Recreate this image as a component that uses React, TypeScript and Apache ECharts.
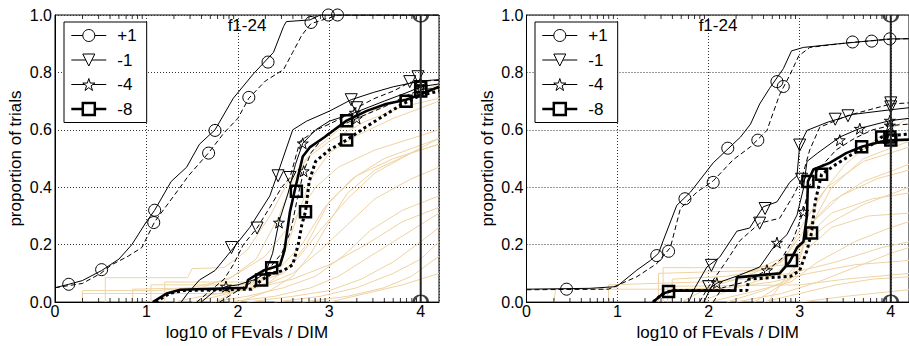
import React, { useEffect, useRef } from "react";
import * as echarts from "echarts";

const FONT = "'Liberation Sans', Arial, Helvetica, sans-serif";
const X_NAME = "log10 of FEvals / DIM";
const Y_NAME = "proportion of trials";
const PANEL_TITLE = "f1-24";
const TARGETS = ["+1", "-1", "-4", "-8"];
const X_TICKS = [0, 1, 2, 3, 4];
const MAX_EVALS_X = 4;
const LOG_MINOR = [0.301, 0.477, 0.602, 0.699, 0.778, 0.845, 0.903, 0.954];

type Pt = [number, number];

// ---------------- LEFT PANEL ----------------
const L_P1_A: Pt[] = [[0, 0.05], [0.15, 0.062], [0.3, 0.075], [0.51, 0.11], [0.7, 0.15], [0.84, 0.2], [1.0, 0.28], [1.09, 0.32], [1.27, 0.42], [1.44, 0.47], [1.58, 0.55], [1.75, 0.6], [1.95, 0.71], [2.17, 0.795], [2.39, 0.87], [2.5, 0.96], [2.53, 0.977], [2.79, 0.983], [2.9, 1.0], [4.2, 1.0]];
const L_P1_B: Pt[] = [[0, 0.05], [0.3, 0.065], [0.5, 0.1], [0.62, 0.13], [0.8, 0.16], [0.95, 0.19], [1.09, 0.28], [1.3, 0.37], [1.46, 0.44], [1.68, 0.52], [1.85, 0.59], [2.0, 0.64], [2.12, 0.71], [2.3, 0.77], [2.5, 0.81], [2.6, 0.87], [2.7, 0.93], [2.8, 0.97], [3.0, 0.99], [3.1, 1.0], [4.2, 1.0]];
const L_M1_A: Pt[] = [[1.38, 0], [1.45, 0.03], [1.58, 0.077], [1.75, 0.11], [1.93, 0.18], [2.13, 0.26], [2.35, 0.37], [2.46, 0.47], [2.6, 0.6], [2.75, 0.63], [3.0, 0.665], [3.24, 0.705], [3.48, 0.73], [3.7, 0.75], [4.0, 0.77], [4.2, 0.775]];
const L_M1_B: Pt[] = [[1.55, 0], [1.7, 0.04], [1.85, 0.08], [1.95, 0.13], [2.06, 0.2], [2.21, 0.258], [2.35, 0.33], [2.48, 0.4], [2.57, 0.434], [2.68, 0.56], [2.86, 0.6], [3.0, 0.62], [3.19, 0.65], [3.3, 0.677], [3.5, 0.71], [3.7, 0.735], [3.88, 0.765], [4.0, 0.77], [4.2, 0.772]];
const L_M4_A: Pt[] = [[1.6, 0], [1.75, 0.04], [1.87, 0.054], [2.0, 0.06], [2.2, 0.08], [2.3, 0.1], [2.38, 0.17], [2.45, 0.28], [2.55, 0.38], [2.63, 0.48], [2.71, 0.553], [2.85, 0.6], [3.0, 0.63], [3.28, 0.66], [3.6, 0.7], [3.85, 0.73], [4.0, 0.75], [4.2, 0.76]];
const L_M4_B: Pt[] = [[1.8, 0], [2.0, 0.04], [2.2, 0.08], [2.35, 0.12], [2.48, 0.17], [2.58, 0.25], [2.65, 0.36], [2.72, 0.456], [2.8, 0.52], [2.95, 0.58], [3.1, 0.61], [3.3, 0.64], [3.6, 0.68], [3.85, 0.72], [4.0, 0.74], [4.2, 0.745]];
const L_M8_A: Pt[] = [[1.07, 0], [1.22, 0.03], [1.37, 0.043], [2.09, 0.05], [2.11, 0.077], [2.28, 0.11], [2.46, 0.128], [2.51, 0.18], [2.57, 0.315], [2.62, 0.386], [2.71, 0.507], [2.79, 0.54], [2.95, 0.575], [3.19, 0.632], [3.41, 0.666], [3.62, 0.69], [3.84, 0.705], [3.99, 0.722], [4.2, 0.75]];
const L_M8_B: Pt[] = [[1.1, 0], [1.25, 0.03], [1.4, 0.04], [2.15, 0.045], [2.26, 0.077], [2.37, 0.1], [2.5, 0.11], [2.6, 0.13], [2.66, 0.2], [2.7, 0.27], [2.74, 0.315], [2.78, 0.42], [2.85, 0.49], [3.0, 0.53], [3.19, 0.565], [3.4, 0.61], [3.6, 0.65], [3.8, 0.69], [4.0, 0.72], [4.2, 0.735]];

const L_P1_MK: Pt[] = [[0.15, 0.062], [0.51, 0.113], [1.09, 0.32], [1.75, 0.598], [2.33, 0.836], [2.99, 1.0], [1.08, 0.277], [1.68, 0.519], [2.12, 0.713], [2.8, 0.974], [3.09, 1.0]];
const L_M1_MK: Pt[] = [[1.93, 0.19], [2.44, 0.44], [3.24, 0.705], [3.97, 0.785], [2.21, 0.258], [2.57, 0.434], [3.3, 0.677], [3.88, 0.768]];
const L_M4_MK: Pt[] = [[1.87, 0.054], [2.45, 0.277], [2.71, 0.553], [3.28, 0.66], [4.0, 0.76], [2.72, 0.456], [3.3, 0.64], [4.0, 0.745]];
const L_M8_MK: Pt[] = [[2.26, 0.077], [2.37, 0.12], [2.64, 0.386], [2.74, 0.315], [3.19, 0.632], [3.19, 0.565], [3.84, 0.7], [4.0, 0.75], [4.0, 0.735]];

const LB01: Pt[] = [[0.3, 0], [0.3, 0.04], [1.1, 0.04], [1.5, 0.05], [1.9, 0.08], [2.2, 0.15], [2.45, 0.3], [2.6, 0.42], [2.8, 0.52], [3.1, 0.6], [3.5, 0.67], [3.9, 0.72], [4.2, 0.76]];
const LB02: Pt[] = [[0.55, 0], [0.55, 0.085], [1.45, 0.085], [1.5, 0.117], [1.85, 0.12], [2.1, 0.18], [2.35, 0.3], [2.55, 0.42], [2.75, 0.5], [3.0, 0.56], [3.4, 0.63], [3.8, 0.68], [4.2, 0.71]];
const LB03: Pt[] = [[0.85, 0], [0.85, 0.045], [1.6, 0.05], [1.95, 0.09], [2.3, 0.16], [2.6, 0.28], [2.85, 0.4], [3.1, 0.47], [3.5, 0.53], [3.9, 0.57], [4.2, 0.6]];
const LB04: Pt[] = [[1.05, 0], [1.05, 0.06], [2.15, 0.06], [2.4, 0.1], [2.7, 0.2], [2.95, 0.33], [3.25, 0.43], [3.6, 0.5], [4.2, 0.57]];
const LB05: Pt[] = [[1.3, 0], [1.6, 0.02], [2.0, 0.04], [2.35, 0.07], [2.65, 0.15], [2.9, 0.25], [3.2, 0.36], [3.5, 0.45], [3.9, 0.52], [4.2, 0.55]];
const LB06: Pt[] = [[1.5, 0], [1.9, 0.03], [2.3, 0.06], [2.6, 0.1], [2.9, 0.18], [3.2, 0.27], [3.5, 0.36], [3.9, 0.43], [4.2, 0.47]];
const LB07: Pt[] = [[1.7, 0], [2.1, 0.02], [2.5, 0.05], [2.85, 0.09], [3.15, 0.16], [3.45, 0.25], [3.8, 0.32], [4.2, 0.37]];
const LB08: Pt[] = [[1.9, 0], [2.4, 0.02], [2.8, 0.05], [3.1, 0.09], [3.4, 0.15], [3.7, 0.21], [4.0, 0.27], [4.2, 0.31]];
const LB09: Pt[] = [[2.1, 0], [2.6, 0.02], [3.0, 0.04], [3.35, 0.08], [3.7, 0.14], [4.0, 0.21], [4.2, 0.26]];
const LB10: Pt[] = [[2.4, 0], [2.9, 0.02], [3.3, 0.05], [3.7, 0.1], [4.0, 0.15], [4.2, 0.21]];
const LB11: Pt[] = [[2.7, 0], [3.2, 0.02], [3.6, 0.05], [3.9, 0.09], [4.2, 0.16]];
const LB12: Pt[] = [[1.75, 0], [2.05, 0.05], [2.3, 0.09], [2.5, 0.16], [2.65, 0.3], [2.8, 0.43], [3.0, 0.52], [3.3, 0.58], [3.7, 0.64], [4.2, 0.7]];
const LB13: Pt[] = [[2.0, 0], [2.35, 0.04], [2.6, 0.09], [2.8, 0.17], [3.0, 0.28], [3.2, 0.38], [3.5, 0.46], [3.9, 0.52], [4.2, 0.57]];
const LB14: Pt[] = [[0.3, 0], [0.3, 0.03], [1.8, 0.03], [2.2, 0.05], [2.6, 0.08], [3.0, 0.13], [3.4, 0.2], [3.8, 0.28], [4.2, 0.33]];
const LB15: Pt[] = [[3.0, 0], [3.4, 0.03], [3.8, 0.06], [4.2, 0.1]];
const LB16: Pt[] = [[1.2, 0], [1.2, 0.07], [2.2, 0.07], [2.5, 0.1], [2.75, 0.2], [3.0, 0.35], [3.3, 0.44], [3.7, 0.5], [4.2, 0.55]];

// ---------------- RIGHT PANEL ----------------
const R_P1_A: Pt[] = [[0, 0.045], [0.7, 0.048], [0.99, 0.054], [1.21, 0.111], [1.36, 0.145], [1.45, 0.17], [1.5, 0.213], [1.65, 0.337], [1.8, 0.383], [2.05, 0.485], [2.2, 0.53], [2.35, 0.575], [2.46, 0.62], [2.56, 0.69], [2.67, 0.745], [2.82, 0.813], [2.91, 0.875], [3.04, 0.887], [3.37, 0.898], [3.74, 0.909], [3.99, 0.917], [4.2, 0.917]];
const R_P1_B: Pt[] = [[0, 0.043], [0.9, 0.045], [1.21, 0.088], [1.43, 0.134], [1.58, 0.19], [1.69, 0.326], [1.87, 0.383], [2.05, 0.422], [2.27, 0.496], [2.46, 0.541], [2.64, 0.598], [2.78, 0.723], [2.89, 0.79], [2.99, 0.858], [3.11, 0.887], [3.55, 0.904], [3.99, 0.915], [4.2, 0.918]];
const R_M1_A: Pt[] = [[1.78, 0], [1.85, 0.05], [1.98, 0.122], [2.12, 0.156], [2.31, 0.247], [2.45, 0.258], [2.6, 0.332], [2.75, 0.349], [2.89, 0.417], [2.97, 0.44], [3.0, 0.547], [3.08, 0.598], [3.3, 0.626], [3.59, 0.654], [4.0, 0.67], [4.2, 0.677]];
const R_M1_B: Pt[] = [[1.9, 0], [2.0, 0.054], [2.2, 0.145], [2.34, 0.213], [2.56, 0.275], [2.78, 0.292], [2.93, 0.371], [3.02, 0.428], [3.11, 0.53], [3.22, 0.609], [3.53, 0.65], [4.0, 0.69], [4.2, 0.694]];
const R_M4_A: Pt[] = [[1.95, 0], [2.02, 0.05], [2.09, 0.066], [2.34, 0.094], [2.56, 0.122], [2.71, 0.19], [2.86, 0.235], [2.97, 0.303], [3.04, 0.394], [3.08, 0.49], [3.2, 0.52], [3.44, 0.575], [3.66, 0.605], [3.99, 0.632], [4.2, 0.64]];
const R_M4_B: Pt[] = [[2.05, 0], [2.15, 0.05], [2.4, 0.07], [2.64, 0.111], [2.8, 0.15], [2.93, 0.22], [3.04, 0.315], [3.1, 0.4], [3.2, 0.46], [3.4, 0.53], [3.6, 0.57], [3.8, 0.6], [4.0, 0.615], [4.2, 0.62]];
const R_M8_A: Pt[] = [[1.39, 0], [1.5, 0.03], [1.6, 0.04], [2.29, 0.04], [2.31, 0.086], [2.78, 0.1], [2.89, 0.14], [2.97, 0.19], [3.04, 0.21], [3.08, 0.303], [3.09, 0.42], [3.15, 0.462], [3.33, 0.485], [3.51, 0.519], [3.68, 0.541], [3.88, 0.558], [4.0, 0.564], [4.2, 0.566]];
const R_M8_B: Pt[] = [[1.39, 0], [1.5, 0.03], [1.6, 0.04], [2.42, 0.04], [2.44, 0.08], [2.9, 0.09], [3.0, 0.11], [3.08, 0.18], [3.13, 0.241], [3.17, 0.35], [3.24, 0.445], [3.4, 0.48], [3.6, 0.52], [3.8, 0.55], [3.9, 0.575], [4.0, 0.58], [4.2, 0.585]];

const R_P1_MK: Pt[] = [[0.44, 0.045], [1.43, 0.162], [1.74, 0.36], [2.21, 0.536], [2.75, 0.768], [3.58, 0.906], [3.99, 0.917], [1.56, 0.177], [2.05, 0.417], [2.54, 0.564], [2.82, 0.751], [3.79, 0.909]];
const R_M1_MK: Pt[] = [[2.03, 0.128], [2.62, 0.326], [3.0, 0.547], [3.39, 0.637], [4.0, 0.68], [2.0, 0.054], [2.56, 0.275], [3.02, 0.428], [3.53, 0.649], [4.0, 0.694]];
const R_M4_MK: Pt[] = [[2.09, 0.066], [2.75, 0.207], [3.44, 0.564], [3.66, 0.604], [3.99, 0.632], [2.64, 0.111], [3.04, 0.315], [3.99, 0.615]];
const R_M8_MK: Pt[] = [[1.56, 0.037], [2.91, 0.145], [3.09, 0.42], [3.68, 0.541], [3.99, 0.575], [3.13, 0.241], [3.24, 0.445], [3.9, 0.575], [4.0, 0.565]];

const RB01: Pt[] = [[0.3, 0], [0.32, 0.045], [1.7, 0.045], [2.2, 0.05], [2.7, 0.07], [3.1, 0.1], [3.6, 0.13], [4.2, 0.145]];
const RB02: Pt[] = [[1.45, 0], [1.45, 0.1], [2.5, 0.11], [2.85, 0.16], [3.05, 0.28], [3.3, 0.4], [3.7, 0.49], [4.2, 0.54]];
const RB03: Pt[] = [[1.7, 0], [2.0, 0.05], [2.4, 0.09], [2.8, 0.14], [3.05, 0.25], [3.35, 0.35], [3.7, 0.42], [4.2, 0.48]];
const RB04: Pt[] = [[1.6, 0], [1.6, 0.08], [2.2, 0.09], [2.7, 0.12], [3.0, 0.19], [3.3, 0.27], [3.7, 0.34], [4.2, 0.4]];
const RB05: Pt[] = [[2.0, 0], [2.4, 0.03], [2.9, 0.07], [3.2, 0.14], [3.6, 0.21], [4.0, 0.26], [4.2, 0.28]];
const RB06: Pt[] = [[2.3, 0], [2.8, 0.03], [3.2, 0.07], [3.6, 0.12], [4.0, 0.17], [4.2, 0.19]];
const RB07: Pt[] = [[2.6, 0], [3.0, 0.03], [3.4, 0.06], [3.8, 0.08], [4.2, 0.088]];
const RB08: Pt[] = [[1.9, 0], [2.3, 0.05], [2.7, 0.09], [2.95, 0.16], [3.15, 0.28], [3.45, 0.37], [3.85, 0.43], [4.2, 0.46]];
const RB09: Pt[] = [[0.9, 0], [0.9, 0.06], [1.9, 0.07], [2.4, 0.08], [2.9, 0.1], [3.4, 0.14], [3.9, 0.19], [4.2, 0.21]];
const RB10: Pt[] = [[2.2, 0], [2.6, 0.04], [2.95, 0.09], [3.1, 0.19], [3.35, 0.26], [3.75, 0.3], [4.2, 0.31]];
const RB11: Pt[] = [[2.5, 0], [2.9, 0.08], [3.1, 0.25], [3.35, 0.4], [3.7, 0.5], [4.2, 0.56]];
const RB12: Pt[] = [[2.65, 0], [3.0, 0.15], [3.2, 0.36], [3.5, 0.48], [3.85, 0.57], [4.2, 0.643]];
const RB13: Pt[] = [[1.5, 0], [1.5, 0.12], [2.5, 0.12], [2.85, 0.13], [3.05, 0.22], [3.35, 0.31], [3.8, 0.36], [4.2, 0.38]];
const RB14: Pt[] = [[3.0, 0], [3.5, 0.02], [4.2, 0.043]];
const RB15: Pt[] = [[1.55, 0], [1.55, 0.055], [3.0, 0.06], [3.5, 0.08], [4.2, 0.1]];

const PANELS = [
  {
    curves: [[L_P1_A, L_P1_B], [L_M1_A, L_M1_B], [L_M4_A, L_M4_B], [L_M8_A, L_M8_B]],
    markers: [L_P1_MK, L_M1_MK, L_M4_MK, L_M8_MK],
    beige: [LB01, LB02, LB03, LB04, LB05, LB06, LB07, LB08, LB09, LB10, LB11, LB12, LB13, LB14, LB15, LB16],
  },
  {
    curves: [[R_P1_A, R_P1_B], [R_M1_A, R_M1_B], [R_M4_A, R_M4_B], [R_M8_A, R_M8_B]],
    markers: [R_P1_MK, R_M1_MK, R_M4_MK, R_M8_MK],
    beige: [RB01, RB02, RB03, RB04, RB05, RB06, RB07, RB08, RB09, RB10, RB11, RB12, RB13, RB14, RB15],
  },
];

const TRI = "path://M0,0L20,0L10,17Z";
const STAR = "path://M10,0L12.4,7.2L20,7.2L13.8,11.6L16.2,19L10,14.5L3.8,19L6.2,11.6L0,7.2L7.6,7.2Z";
const HALF_DOWN = "path://M0,0A10,10 0 0 0 20,0";
const HALF_UP = "path://M0,0A10,10 0 0 1 20,0";
const SYMBOLS = ["circle", TRI, STAR, "rect"];
const SYM_SIZE = [12, 12, 11, 11];
const SYM_BORDER = [1, 1, 1, 2.5];
const LINE_W = [1, 1, 1, 2.6];
const B_TYPE: any[] = [[5, 3], [5, 3], [5, 3], [3, 3]];
const BEIGE = "#efd3a2";

const GRID_LEFT = [55, 526.5];

export default function App() {
  const ref = useRef<HTMLDivElement>(null);
  useEffect(() => {
    if (!ref.current) return;
    const chart = echarts.init(ref.current, undefined, { renderer: "svg" });
    const series: any[] = [];
    PANELS.forEach((p, gi) => {
      p.beige.forEach((b) => {
        series.push({
          type: "line", xAxisIndex: gi, yAxisIndex: gi, data: b, showSymbol: false, symbol: "none",
          silent: true, z: 1, lineStyle: { color: BEIGE, width: 1 },
        });
      });
      p.curves.forEach((pair, k) => {
        series.push({
          name: TARGETS[k], type: "line", xAxisIndex: gi, yAxisIndex: gi, data: pair[0],
          symbol: SYMBOLS[k], showSymbol: false, z: 3,
          itemStyle: { color: "#fff", borderColor: "#000", borderWidth: SYM_BORDER[k] },
          lineStyle: { color: "#000", width: LINE_W[k], type: "solid" },
        });
      });
      p.curves.forEach((pair, k) => {
        series.push({
          type: "line", xAxisIndex: gi, yAxisIndex: gi, data: pair[1],
          symbol: "none", showSymbol: false, z: 3,
          lineStyle: { color: "#000", width: k === 3 ? 3 : 1, type: B_TYPE[k] },
        });
      });
      p.markers.forEach((m, k) => {
        series.push({
          type: "scatter", xAxisIndex: gi, yAxisIndex: gi, data: m, clip: false, z: 4,
          symbol: SYMBOLS[k], symbolSize: SYM_SIZE[k],
          itemStyle: { color: "rgba(255,255,255,0)", borderColor: "#000", borderWidth: SYM_BORDER[k], opacity: 1 },
        });
      });
      // max evals vertical line with half circles at both ends
      series.push({
        type: "line", xAxisIndex: gi, yAxisIndex: gi, data: [[MAX_EVALS_X, 0], [MAX_EVALS_X, 1]],
        symbol: "none", z: 5, lineStyle: { color: "#222", width: 2 },
      });
      series.push({
        type: "scatter", xAxisIndex: gi, yAxisIndex: gi, data: [[MAX_EVALS_X, 1]],
        clip: false, z: 5, symbol: HALF_DOWN, symbolSize: [14, 7], symbolOffset: [0, 3.5],
        itemStyle: { color: "rgba(0,0,0,0)", borderColor: "#111", borderWidth: 2 },
      });
      series.push({
        type: "scatter", xAxisIndex: gi, yAxisIndex: gi, data: [[MAX_EVALS_X, 0]],
        clip: false, z: 5, symbol: HALF_UP, symbolSize: [14, 7], symbolOffset: [0, -3.5],
        itemStyle: { color: "rgba(0,0,0,0)", borderColor: "#111", borderWidth: 2 },
      });
      // log minor ticks on bottom and top edges
      const minor: Pt[] = [];
      X_TICKS.forEach((d) => LOG_MINOR.forEach((f) => { if (d + f <= 4.2) minor.push([d + f, 0]); }));
      series.push({
        type: "scatter", xAxisIndex: gi, yAxisIndex: gi, data: minor, clip: false, silent: true, z: 6,
        symbol: "rect", symbolSize: [1, 4], symbolOffset: [0, -2], itemStyle: { color: "#000" },
      });
      series.push({
        type: "scatter", xAxisIndex: gi, yAxisIndex: gi, data: minor.map((q) => [q[0], 1]), clip: false, silent: true, z: 6,
        symbol: "rect", symbolSize: [1, 4], symbolOffset: [0, 2], itemStyle: { color: "#000" },
      });
    });

    const mkX = (gi: number) => ({
      gridIndex: gi, type: "value", min: 0, max: 4.2, interval: 1,
      axisLine: { show: true, lineStyle: { color: "#000", width: 1 } },
      axisTick: { show: false },
      axisLabel: {
        fontSize: 16, color: "#000", fontFamily: FONT, margin: 1, showMaxLabel: false,
        formatter: (v: number) => (Number.isInteger(v) ? String(v) : ""),
      },
      splitLine: { show: true, lineStyle: { color: "#333", type: [1, 2], width: 1 } },
      name: X_NAME, nameLocation: "middle", nameGap: 19,
      nameTextStyle: { fontSize: 17, color: "#000", fontFamily: FONT },
    });
    const mkY = (gi: number) => ({
      gridIndex: gi, type: "value", min: 0, max: 1, interval: 0.2,
      axisLine: { show: true, lineStyle: { color: "#000", width: 1 } },
      axisTick: { show: false },
      axisLabel: { fontSize: 16, color: "#000", fontFamily: FONT, margin: 3, formatter: (v: number) => v.toFixed(1) },
      splitLine: { show: true, lineStyle: { color: "#333", type: [1, 2], width: 1 } },
      name: Y_NAME, nameLocation: "middle", nameGap: 31, nameRotate: 90,
      nameTextStyle: { fontSize: 17, color: "#000", fontFamily: FONT },
    });

    const option: any = {
      animation: false,
      backgroundColor: "#fff",
      textStyle: { fontFamily: FONT },
      grid: GRID_LEFT.map((l) => ({
        left: l, top: 15, width: 384, height: 294.3, show: true,
        borderColor: "#000", borderWidth: 1, backgroundColor: "transparent",
      })),
      xAxis: [mkX(0), mkX(1)],
      yAxis: [mkY(0), mkY(1)],
      legend: [64, 535].map((l) => ({
        left: l, top: 22, orient: "vertical", itemWidth: 35, itemHeight: 15, itemGap: 7.5,
        padding: [5, 10, 5, 6], borderColor: "#000", borderWidth: 1, backgroundColor: "#fff",
        selectedMode: false,
        textStyle: { fontSize: 17, color: "#000", fontFamily: FONT, padding: [0, 0, 0, 6] },
        data: TARGETS.map((t, k) => ({
          name: t,
          itemStyle: { color: "#fff", borderColor: "#000", borderWidth: SYM_BORDER[k] },
          lineStyle: { color: "#000", width: LINE_W[k], type: "solid" },
        })),
      })),
      graphic: [247, 718].map((x) => ({
        type: "text", x, y: 25, z: 10,
        style: { text: PANEL_TITLE, fontSize: 17, fontFamily: FONT, fill: "#000", align: "center", verticalAlign: "middle" },
      })),
      series,
    };
    chart.setOption(option);
    return () => chart.dispose();
  }, []);
  return <div ref={ref} style={{ position: "absolute", left: 0, top: 0, width: 909, height: 346 }} />;
}
